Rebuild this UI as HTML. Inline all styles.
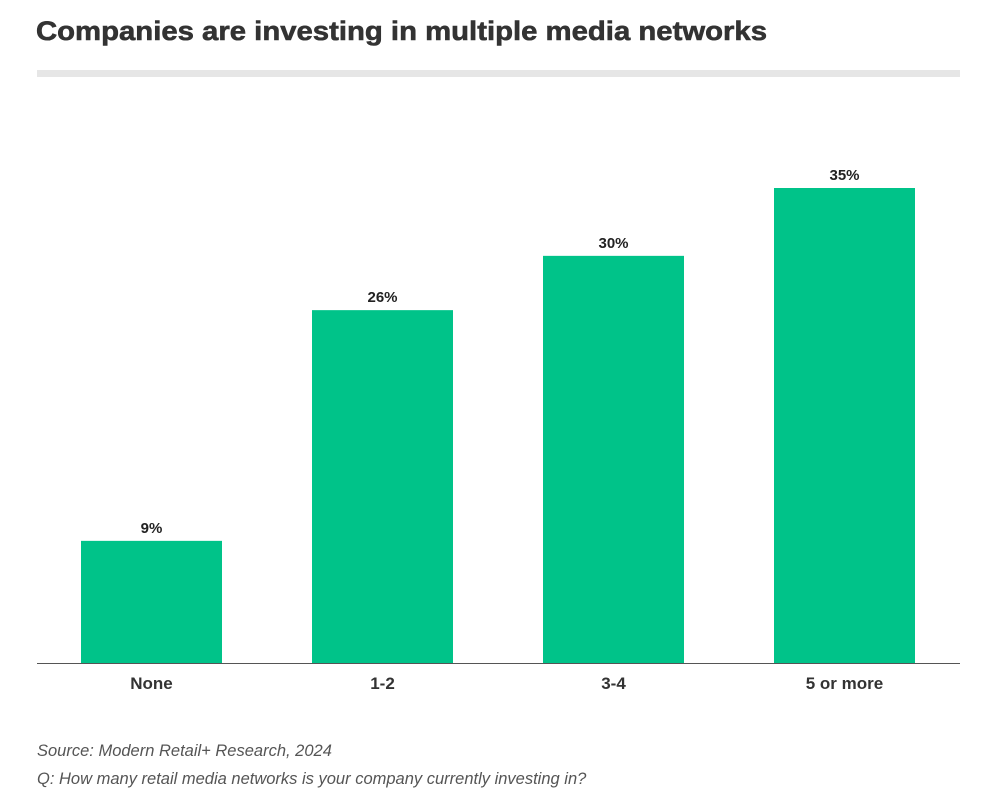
<!DOCTYPE html>
<html><head><meta charset="utf-8"><style>
body{margin:0;background:#fff;width:1000px;height:800px;overflow:hidden;font-family:"Liberation Sans",sans-serif}
</style></head><body>
<svg id="chart" width="1000" height="800" xmlns="http://www.w3.org/2000/svg">
<text x="36" y="40" font-size="27" font-weight="bold" fill="#333" stroke="#333" stroke-width="0.6" textLength="731" lengthAdjust="spacingAndGlyphs">Companies are investing in multiple media networks</text>
<rect x="37" y="70" width="923" height="7" fill="#e6e6e6"/>
<g id="bars"></g>
<line x1="37" x2="960" y1="663.5" y2="663.5" stroke="#555" stroke-width="1"/>
<text x="37" y="756" font-size="16.5" font-style="italic" fill="#555">Source: Modern Retail+ Research, 2024</text>
<text x="37" y="784" font-size="16.5" font-style="italic" fill="#555">Q: How many retail media networks is your company currently investing in?</text>
</svg>
<script>
const categories = ["None","1-2","3-4","5 or more"];
const values = [9,26,30,35];
const valueLabels = ["9%","26%","30%","35%"];
const ns="http://www.w3.org/2000/svg";
const g=document.getElementById('bars');
const baseY=663, pxPer=475/35;
const y=v=>baseY-v*pxPer;
const x=i=>81+i*231;
const bw=141;
categories.forEach((c,i)=>{
  const r=document.createElementNS(ns,'rect');
  
  
  r.setAttribute('x',x(i));r.setAttribute('y',y(values[i]));
  r.setAttribute('width',bw);r.setAttribute('height',baseY-y(values[i]));
  r.setAttribute('fill','#00c389');g.appendChild(r);
  const t=document.createElementNS(ns,'text');
  
  
  t.setAttribute('x',x(i)+bw/2);t.setAttribute('y',y(values[i])-8);
  t.setAttribute('text-anchor','middle');t.setAttribute('font-size','15');
  t.setAttribute('font-weight','bold');t.setAttribute('fill','#222');
  t.textContent=valueLabels[i];g.appendChild(t);
  const l=document.createElementNS(ns,'text');
  
  
  l.setAttribute('x',x(i)+bw/2);l.setAttribute('y',689);
  l.setAttribute('text-anchor','middle');l.setAttribute('font-size','17');
  l.setAttribute('font-weight','bold');l.setAttribute('fill','#333');
  l.textContent=c;g.appendChild(l);
});
</script>
</body></html>
